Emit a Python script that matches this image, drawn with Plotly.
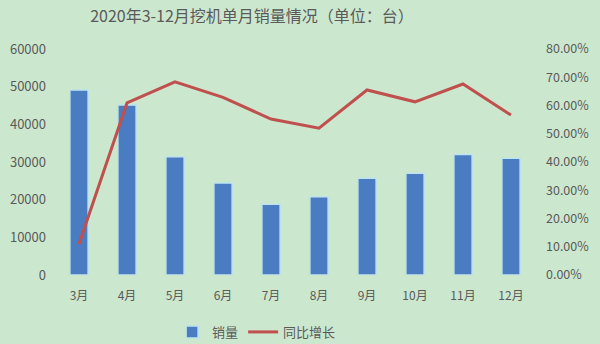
import plotly.graph_objects as go

months = ["3月", "4月", "5月", "6月", "7月", "8月", "9月", "10月", "11月", "12月"]
sales = [49100, 45100, 31400, 24400, 18800, 20800, 25700, 27000, 32000, 31000]
yoy = [0.110, 0.609, 0.684, 0.629, 0.552, 0.520, 0.655, 0.613, 0.676, 0.566]

bg = "#cbe8cf"
txt = "#5a5a5a"
font = "Noto Sans CJK SC"

fig = go.Figure()
fig.add_trace(go.Bar(
    x=months, y=sales, name="销量",
    marker=dict(color="#4a7cc2", line=dict(color="#bfe3ee", width=1.5)),
))
fig.add_trace(go.Scatter(
    x=months, y=yoy, name="同比增长", yaxis="y2", mode="lines",
    line=dict(color="#c0504d", width=3),
))

fig.update_layout(
    width=600, height=344,
    paper_bgcolor=bg, plot_bgcolor=bg,
    margin=dict(l=55, r=65, t=49, b=69, autoexpand=False),
    bargap=0.62,
    font=dict(family=font, color=txt, size=12),
    title=dict(text="2020年3-12月挖机单月销量情况（单位：台）",
               x=0.42, xanchor="center", y=0.97, yanchor="top",
               font=dict(size=16, color=txt, family=font)),
    xaxis=dict(showgrid=False, showline=False, ticks="", tickfont=dict(size=12),
               ticklabelstandoff=12, automargin=False),
    yaxis=dict(range=[0, 60000], dtick=10000, tickformat="d", showgrid=False,
               zeroline=False, tickfont=dict(size=13), ticklabelstandoff=8,
               automargin=False),
    yaxis2=dict(range=[0, 0.8], dtick=0.1, tickformat=".2%", overlaying="y",
                side="right", showgrid=False, zeroline=False,
                tickfont=dict(size=12.5), ticklabelstandoff=10, automargin=False),
    legend=dict(orientation="h", x=0.42, xanchor="center", yref="container",
                y=0.035, yanchor="middle",
                font=dict(size=13), bgcolor="rgba(0,0,0,0)"),
    showlegend=True,
)

fig.write_html("out.html")
